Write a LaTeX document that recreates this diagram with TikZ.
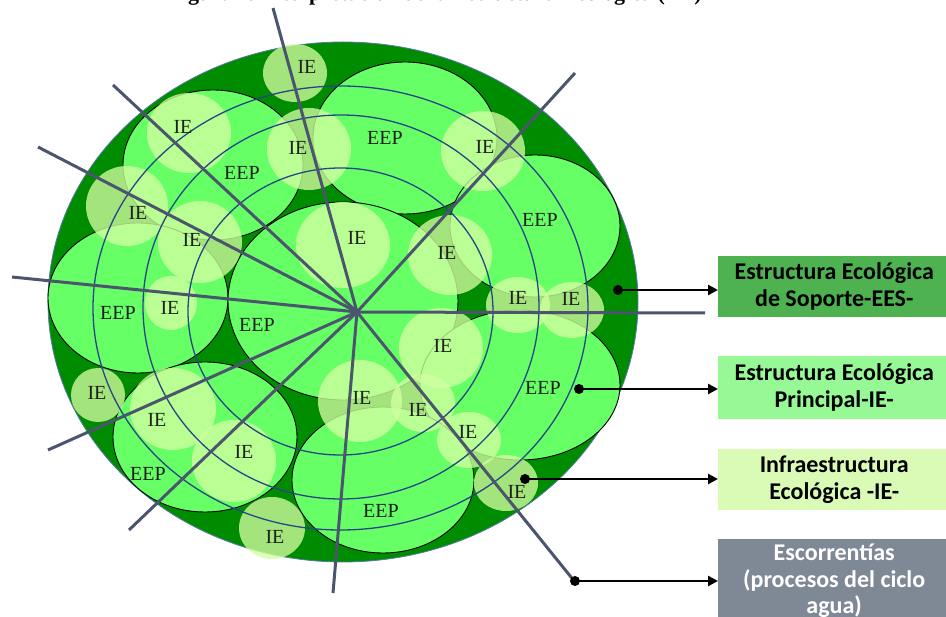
\documentclass[tikz,border=0pt]{standalone}
\usepackage{fontspec}
\setmainfont{Liberation Serif}
\newfontfamily\legendfont{Carlito}
\usetikzlibrary{arrows.meta}

\definecolor{soporte}{RGB}{0,140,0}
\definecolor{principal}{RGB}{102,255,102}
\definecolor{infra}{RGB}{210,255,160}
\definecolor{rayo}{RGB}{75,85,110}
\definecolor{anillo}{RGB}{40,70,135}
\definecolor{borde}{RGB}{90,120,170}
\definecolor{cajaEES}{RGB}{78,178,80}
\definecolor{cajaEEP}{RGB}{150,249,150}
\definecolor{cajaIE}{RGB}{218,251,182}
\definecolor{cajaEsc}{RGB}{127,137,150}

\tikzset{
  eep/.style={fill=principal, draw=black, line width=0.9pt},
  iezone/.style={fill=infra, fill opacity=0.78},
  ring/.style={draw=anillo, line width=1.3pt},
  ray/.style={draw=rayo, line width=3pt},
  tag/.style={font=\fontsize{20}{20}\selectfont, text=black!88, inner sep=0pt},
  legend/.style={font=\legendfont\bfseries\fontsize{24}{26.5}\selectfont, align=center,
    minimum width=232pt, inner sep=0pt, anchor=north west, text=black},
  pointer/.style={line width=2.6pt, -{Triangle[length=10pt,width=10pt]}},
  dot/.style={circle, fill=black, inner sep=0pt, minimum size=10pt},
}

\begin{document}
\begin{tikzpicture}[x=1pt,y=-1pt]
\useasboundingbox (0,0) rectangle (946,617);

% caption (only its lower edge falls inside the page)
\node[font=\bfseries\fontsize{22}{22}\selectfont, anchor=base west] (titulo) at (165,1)
  {Figura 4. Interpretación de la Estructura Ecológica (EE)};

% support structure (EES)
\filldraw[fill=soporte, draw=borde, line width=0.8pt] (343,302) ellipse [x radius=295pt, y radius=260pt];

% main ecological structure patches (EEP)
\foreach \cx/\cy/\rx/\ry in {405/138/92/76, 213/165/90/75, 138/298/90/75, 343/301/115/99,
    535/226/85/71, 520/385/100/75, 205/437/92/75, 383/480/91/73}
  \filldraw[eep] (\cx,\cy) ellipse [x radius=\rx pt, y radius=\ry pt];

% ecological infrastructure spots (IE)
\foreach \cx/\cy/\rx/\ry in {295/73/32/29, 189/133/42/40, 309/149/42/41, 127/206/41/40,
    200/242/42/41, 343/245/47/43, 171/303/26/27, 483/151/42/40, 450/255/42/40,
    518/305/32/28, 572/310/32/28, 441/348/42/40, 360/401/42/41, 423/403/32/29,
    469/440/32/28, 506/483/32/28, 98/395/27/27, 173/409/43/41, 234/461/42/41,
    272/528/33/31}
  \fill[iezone] (\cx,\cy) ellipse [x radius=\rx pt, y radius=\ry pt];

% concentric rings
\draw[ring] (340.5,308) ellipse [x radius=247.5pt, y radius=222pt];
\draw[ring] (341,307) ellipse [x radius=198pt, y radius=192pt];
\draw[ring] (340.5,311.5) ellipse [x radius=152.5pt, y radius=143.5pt];

% radial runoff lines
\coordinate (centro) at (357,312);
\coordinate (r1) at (273,8);
\coordinate (r2) at (113,85);
\coordinate (r3) at (38,147);
\coordinate (r4) at (12,277);
\coordinate (r5) at (48,450);
\coordinate (r6) at (129,530);
\coordinate (r7) at (333,593);
\coordinate (r8) at (575,582);
\coordinate (r9) at (705,313);
\coordinate (r10) at (575,73);
\foreach \k in {1,...,10}
  \draw[ray] (centro) -- (r\k);

% labels
\foreach \x/\y [count=\i] in {385/138, 242/173, 540/220, 118/313, 257/325, 543/388, 148/474, 381/511}
  \node[tag] (eep\i) at (\x,\y) {EEP};
\foreach \x/\y [count=\i] in {307/67, 183/127, 298/148, 485/147, 138/213, 192/240, 357/238,
    447/253, 170/308, 518/298, 571/299, 443/346, 97/393, 157/420, 362/398, 418/410,
    468/432, 244/452, 517/492, 275/537}
  \node[tag] (ie\i) at (\x,\y) {IE};

% legend boxes
\node[legend, fill=cajaEES, minimum height=61pt] (legEES) at (718,256)
  {Estructura Ecológica\\de Soporte-EES-};
\node[legend, fill=cajaEEP, minimum height=63pt] (legEEP) at (718,356)
  {Estructura Ecológica\\Principal-IE-};
\node[legend, fill=cajaIE, minimum height=61pt] (legIE) at (718,449)
  {Infraestructura\\Ecológica -IE-};
\node[legend, fill=cajaEsc, minimum height=84pt, text=white] (legEsc) at (718,539)
  {Escorrentías\\(procesos del ciclo\\agua)};

% pointers from the figure to the legend
\node[dot] (pEES) at (618,290) {};
\node[dot] (pEEP) at (579,389) {};
\node[dot] (pIE) at (525,479) {};
\node[dot] (pEsc) at (575,581) {};
\draw[pointer] (pEES.center) -- (pEES.center -| legEES.west);
\draw[pointer] (pEEP.center) -- (pEEP.center -| legEEP.west);
\draw[pointer] (pIE.center) -- (pIE.center -| legIE.west);
\draw[pointer] (pEsc.center) -- (pEsc.center -| legEsc.west);
\end{tikzpicture}
\end{document}
